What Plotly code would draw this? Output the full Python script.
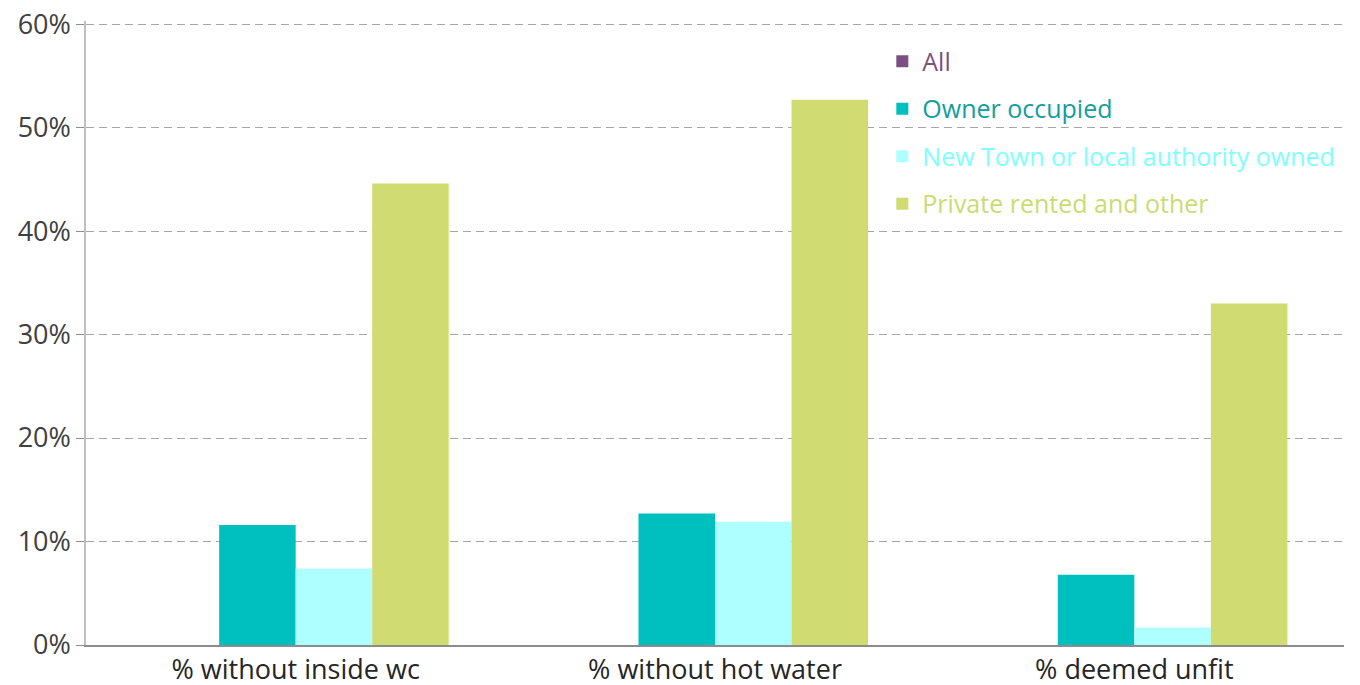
import plotly.graph_objects as go

categories = ["% without inside wc", "% without hot water", "% deemed unfit"]
series_names = ["All", "Owner occupied", "New Town or local authority owned", "Private rented and other"]
all_vals = [0, 0, 0]
owner_vals = [11.6, 12.7, 6.8]
newtown_vals = [7.4, 11.9, 1.7]
private_vals = [44.6, 52.7, 33.0]
tick_vals = [0, 10, 20, 30, 40, 50, 60]
tick_text = ["0%", "10%", "20%", "30%", "40%", "50%", "60%"]

bar_colors = ["#7B4F80", "#00BFBF", "#AEFFFF", "#D0DC72"]
text_colors = ["#7B4F80", "#139D9D", "#80FFFF", "#CBDB74"]
values = [all_vals, owner_vals, newtown_vals, private_vals]

fig = go.Figure()
for i, (name, vals) in enumerate(zip(series_names, values)):
    fig.add_trace(go.Bar(
        x=categories, y=vals,
        name=f"<span style='color:{text_colors[i]}'>{name}</span>",
        marker=dict(color=bar_colors[i], line=dict(width=0)),
        legendgroup=f"g{i}",
    ))

fig.update_layout(
    width=1360, height=685,
    margin=dict(l=78, r=24, t=13, b=48, autoexpand=False),
    paper_bgcolor="white", plot_bgcolor="white",
    barmode="group", bargap=0.27, bargroupgap=0,
    font=dict(family="Open Sans, Lato, sans-serif", size=27, color="#404040"),
    showlegend=True,
    legend=dict(
        x=0.633, y=0.972, xanchor="left", yanchor="top",
        font=dict(size=25),
        tracegroupgap=12, itemwidth=30,
        bgcolor="rgba(0,0,0,0)",
    ),
    xaxis=dict(
        automargin=False,
        showline=True, linecolor="#8C8C8C", linewidth=1.5,
        ticks="", tickfont=dict(size=27, color="#262626"),
        ticklabeloverflow="allow",
        showgrid=False,
    ),
    yaxis=dict(
        automargin=False,
        range=[0, 60.3], tickvals=tick_vals, ticktext=tick_text,
        showline=True, linecolor="#BFBFBF", linewidth=1.5,
        ticks="outside", ticklen=8, tickcolor="#8C8C8C",
        ticklabeloverflow="allow",
        showgrid=True, gridcolor="#A6A6A6", griddash="8px,5px", gridwidth=1.3,
        tickfont=dict(size=27, color="#404040"),
        zeroline=False,
    ),
)

fig.write_html("out.html")
